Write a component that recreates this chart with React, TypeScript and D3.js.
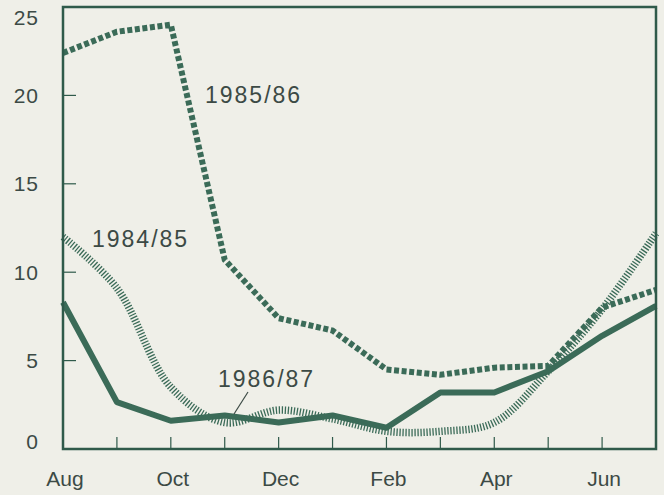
import React from "react";
import * as d3 from "d3";

const months = ["Aug", "Sep", "Oct", "Nov", "Dec", "Jan", "Feb", "Mar", "Apr", "May", "Jun", "Jul"];
const monthLabels = ["Aug", "Oct", "Dec", "Feb", "Apr", "Jun"];
const yTicks = [0, 5, 10, 15, 20, 25];

const s1984 = [12.0, 9.1, 3.5, 1.5, 2.2, 1.7, 1.0, 1.0, 1.5, 4.4, 7.9, 12.2];
const s1985 = [22.4, 23.6, 24.0, 10.7, 7.4, 6.7, 4.5, 4.2, 4.6, 4.7, 8.0, 9.0];
const s1986 = [8.3, 2.65, 1.6, 1.9, 1.5, 1.9, 1.2, 3.2, 3.2, 4.4, 6.4, 8.1];

const W = 664;
const H = 495;
const M = { left: 63, right: 8, top: 7, bottom: 46 };

const BG = "#efefe8";
const GREEN = "#3b6b58";
const AXIS = "#2f5a4a";
const TEXT = "#3c4a45";

export default function App() {
  const x = d3.scalePoint<string>().domain(months).range([M.left, W - M.right]);
  const y = d3.scaleLinear().domain([0, 25]).range([H - M.bottom, M.top]);

  const mk = (vals: number[], curve: d3.CurveFactory) =>
    d3
      .line<number>()
      .x((_, i) => x(months[i]) as number)
      .y((v) => y(v))
      .curve(curve)(vals) as string;

  const x0 = M.left;
  const x1 = W - M.right;
  const y0 = H - M.bottom;
  const y1 = M.top;

  return (
    <svg
      width={W}
      height={H}
      style={{ position: "fixed", left: 0, top: 0, background: BG }}
      fontFamily="'Liberation Sans', Arial, sans-serif"
    >
      <rect x={0} y={0} width={W} height={H} fill={BG} />
      {/* 1984/85 hatched */}
      <path
        d={mk(s1984, d3.curveCatmullRom.alpha(0.5))}
        fill="none"
        stroke={GREEN}
        strokeWidth={7.5}
        strokeDasharray="1.3,1.7"
      />
      {/* 1985/86 square dots */}
      <path
        d={mk(s1985, d3.curveLinear)}
        fill="none"
        stroke={GREEN}
        strokeWidth={6}
        strokeDasharray="5,2.6"
      />
      {/* 1986/87 solid */}
      <path
        d={mk(s1986, d3.curveLinear)}
        fill="none"
        stroke={GREEN}
        strokeWidth={6}
        strokeLinejoin="round"
      />

      {/* frame */}
      <rect x={x0} y={y1} width={x1 - x0} height={y0 - y1} fill="none" stroke={AXIS} strokeWidth={2.5} />

      {/* y ticks */}
      {yTicks.map((t) => (
        <g key={t}>
          {t > 0 && t < 25 && <line x1={x0} x2={x0 + 13} y1={y(t)} y2={y(t)} stroke={AXIS} strokeWidth={1.2} />}
          <text
            x={39}
            y={Math.min(Math.max(y(t), 17), 441)}
            dy="0.36em"
            textAnchor="end"
            fontSize={21}
            letterSpacing={1}
            fill={TEXT}
          >
            {t}
          </text>
        </g>
      ))}

      {/* x ticks */}
      {months.slice(1).map((m) => (
        <line key={m} x1={x(m)} x2={x(m)} y1={y0} y2={y0 - 12} stroke={AXIS} strokeWidth={1.2} />
      ))}
      {monthLabels.map((m) => (
        <text key={m} x={(x(m) as number) + 2} y={486} textAnchor="middle" fontSize={21} fill={TEXT}>
          {m}
        </text>
      ))}

      {/* series labels */}
      <text x={205} y={103} fontSize={23} fill={TEXT} letterSpacing={2}>
        1985/86
      </text>
      <text x={92} y={247} fontSize={23} fill={TEXT} letterSpacing={2}>
        1984/85
      </text>
      <text x={218} y={387} fontSize={23} fill={TEXT} letterSpacing={2}>
        1986/87
      </text>
      <line x1={248} y1={392} x2={234} y2={414} stroke={TEXT} strokeWidth={1.2} />
    </svg>
  );
}
